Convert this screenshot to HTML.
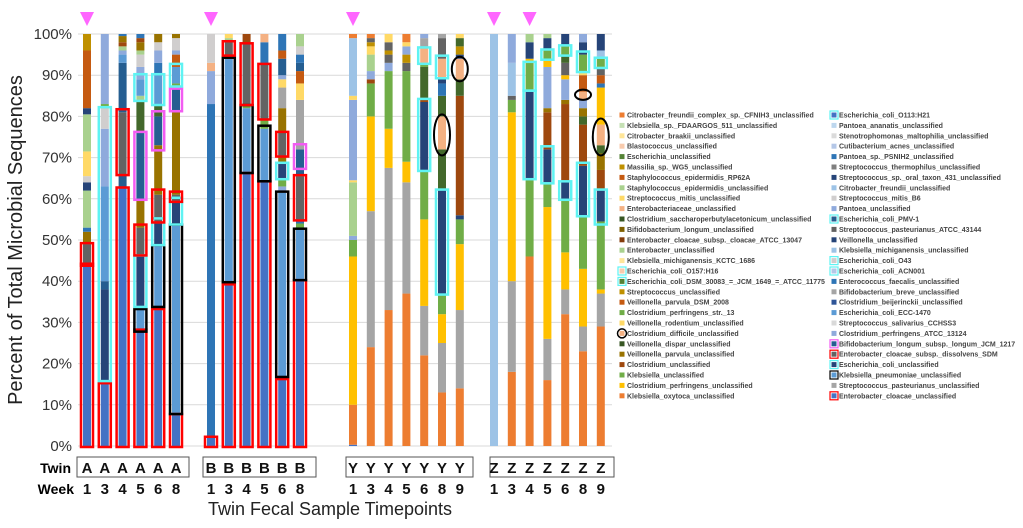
<!DOCTYPE html>
<html><head><meta charset="utf-8"><style>
body{margin:0;background:#fff;font-family:"Liberation Sans",sans-serif}
svg{display:block}
</style></head><body>
<svg id="c" width="1023" height="528" xmlns="http://www.w3.org/2000/svg"></svg>
<script>
// colour keys
const COL={B:'#4472c4',LB:'#5b9bd5',N:'#264478',G:'#636363',O:'#ed7d31',GY:'#a5a5a5',Y:'#ffc000',GR:'#70ad47',DG:'#43682b',BR:'#9e480e',OL:'#997300',PE:'#f4b183',LV:'#8faadc',LG:'#a9d18e',LY:'#ffd966',SB:'#255e91',MB:'#2e75b6',LBL:'#9dc3e6',LGR:'#d0cece',OB:'#c55a11',GD:'#bf9000'};
const groups=['A','B','Y','Z'];
const weeks=[[1,3,4,5,6,8],[1,3,4,5,6,8],[1,3,4,5,6,8,9],[1,3,4,5,6,8,9]];
const markers=[[0,0],[1,0],[2,0],[3,0],[3,2]];
// segments: [cumulative top %, colour]
const bars=[
[[44,'B'],[49,'G'],[52,'OL'],[53,'MB'],[62,'LG'],[64,'N'],[65.5,'LGR'],[71.5,'LY'],[80.5,'LG'],[82,'N'],[96,'OB'],[100,'GD']],
[[15,'B'],[38,'N'],[40,'SB'],[63,'LB'],[77,'LV'],[82,'LGR'],[83,'GR'],[100,'LV']],
[[62.5,'B'],[66,'SB'],[81,'G'],[93,'SB'],[95,'LB'],[96,'LV'],[97,'LG'],[98,'BR'],[99.5,'OL'],[100,'MB']],
[[28,'B'],[33,'LB'],[46,'N'],[53,'G'],[60,'OL'],[76,'SB'],[84,'DG'],[85,'LG'],[89,'LB'],[92,'LV'],[95,'LGR'],[96,'LG'],[98,'OL'],[99,'BR'],[100,'MB']],
[[33,'B'],[48.5,'LB'],[54,'N'],[61,'G'],[73,'OL'],[80,'SB'],[83,'DG'],[90,'LB'],[93,'MB'],[96,'LV'],[98,'LGR'],[100,'OL']],
[[7.5,'B'],[53.5,'LB'],[59,'N'],[61,'G'],[81,'OL'],[87,'SB'],[88,'GR'],[92,'LB'],[95,'OB'],[96,'LV'],[99,'LGR'],[100,'OL']],
[[2,'B'],[83,'MB'],[91,'LV'],[93,'PE'],[100,'LGR']],
[[39,'B'],[94,'LB'],[95,'GR'],[98,'G'],[99,'LG'],[100,'LY']],
[[66,'B'],[82,'LB'],[83,'GR'],[97.5,'G'],[100,'BR']],
[[64,'B'],[77,'LB'],[79.5,'GR'],[92.5,'G'],[98,'MB'],[100,'PE']],
[[16.5,'B'],[61.5,'LB'],[63,'LV'],[65,'GR'],[68.5,'N'],[70.5,'OL'],[76,'G'],[82,'OL'],[87,'GY'],[89,'LY'],[90,'LV'],[94,'SB'],[96,'OB'],[100,'MB']],
[[40,'B'],[52.5,'LB'],[54,'GR'],[55,'MB'],[65.5,'G'],[67,'SB'],[72,'SB'],[84,'GY'],[88,'LY'],[91,'OB'],[93,'SB'],[95,'MB'],[97,'LGR'],[100,'LG']],
[[0.3,'B'],[10,'O'],[46,'Y'],[50,'GR'],[51,'LV'],[64,'LG'],[64.5,'LY'],[84,'LV'],[85,'LY'],[99,'LBL'],[100,'O']],
[[24,'O'],[57,'GY'],[80,'Y'],[88,'GR'],[89,'BR'],[91,'LV'],[95,'LG'],[97,'LY'],[98,'GD'],[99,'G'],[100,'O']],
[[33,'O'],[67.5,'GY'],[77,'Y'],[91,'GR'],[93,'LV'],[95,'G'],[96,'GD'],[98,'G'],[100,'LY']],
[[37,'O'],[64,'GY'],[69,'Y'],[91,'GR'],[93,'G'],[95,'GD'],[97,'LV'],[98,'LY'],[100,'O']],
[[22,'O'],[34,'GY'],[55,'Y'],[67,'GR'],[83.5,'N'],[84.5,'BR'],[92,'DG'],[93,'GR'],[96.5,'PE'],[99,'GY'],[100,'LV']],
[[13,'O'],[25,'GY'],[32,'Y'],[37,'GR'],[62,'N'],[72,'DG'],[80,'PE'],[85,'DG'],[88,'MB'],[89,'N'],[94,'PE'],[99,'G'],[100,'GY']],
[[14,'O'],[33,'GY'],[49,'Y'],[55,'GR'],[56,'N'],[85,'BR'],[89,'DG'],[94,'PE'],[95,'N'],[97,'GD'],[99,'DG'],[100,'LY']],
[[100,'LBL']],
[[18,'O'],[40,'GY'],[81,'Y'],[84,'GR'],[85,'G'],[93,'LBL'],[100,'LV']],
[[46,'O'],[65,'GR'],[86,'N'],[93,'GR'],[94,'Y'],[98,'N'],[100,'LG']],
[[16,'O'],[26,'GY'],[58,'Y'],[64,'GR'],[72,'N'],[81,'BR'],[82,'OL'],[92,'LV'],[94,'Y'],[96,'GR'],[99,'N'],[100,'LG']],
[[32,'O'],[38,'GY'],[47,'Y'],[60,'GR'],[64,'N'],[83,'BR'],[84,'OL'],[89,'LV'],[90,'Y'],[93,'G'],[95,'DG'],[97,'GR'],[100,'N']],
[[23,'O'],[29,'GY'],[43,'Y'],[56,'GR'],[68,'N'],[78,'BR'],[80,'DG'],[82,'OL'],[84,'LV'],[86,'PE'],[90,'OB'],[91,'LY'],[95,'GR'],[98,'N'],[100,'LV']],
[[29,'O'],[37,'GY'],[38,'Y'],[54.5,'GR'],[62,'N'],[67,'BR'],[71,'OL'],[73,'DG'],[78,'PE'],[87,'Y'],[88,'MB'],[90,'OB'],[92,'G'],[94,'GR'],[96,'LBL'],[100,'N']]
];
// highlights: [bar index, from %, to %, type r/k/c/m/e]
const highlights=[
[0,0,44,'r'],[0,44,49,'r'],[1,0,15,'r'],[1,16,82,'c'],[2,0,62.5,'r'],[2,66,81.5,'r'],
[3,0,28,'r'],[3,28,33,'k'],[3,34,46,'c'],[3,46.5,53.5,'r'],[3,60,76,'m'],[3,84,90,'c'],
[4,0,33,'r'],[4,34,48.5,'k'],[4,49,55,'c'],[4,54.5,62,'r'],[4,72,81,'m'],[4,83,90,'c'],
[5,0,7.5,'r'],[5,8,53.5,'k'],[5,54,60,'c'],[5,59.5,61.5,'r'],[5,81.5,86.5,'m'],[5,87.5,92.5,'c'],
[6,0,2,'r'],[7,0,39,'r'],[7,40,94,'k'],[7,95,98,'r'],[8,0,66,'r'],[8,66.5,82.5,'k'],[8,83,97.5,'r'],
[9,0,64,'r'],[9,64.5,77.5,'k'],[9,79.5,92.5,'r'],[10,0,16,'r'],[10,17,61.5,'k'],[10,65,68.5,'c'],[10,70.5,76,'r'],
[11,0,40,'r'],[11,40.5,52.5,'k'],[11,55,65.5,'r'],[11,67.5,73,'m'],
[16,67,84,'c'],[16,93,96.5,'c'],[17,37,62,'c'],[17,71,80,'e'],[17,89.5,94.5,'c'],[18,89,94,'e'],
[21,65,86,'c'],[21,86.5,93,'c'],[22,64,72.5,'c'],[22,94,96,'c'],[23,60,64,'c'],[23,95,97,'c'],
[24,56,68.5,'c'],[24,84.5,86,'e'],[24,91,95.5,'c'],[25,54,62,'c'],[25,71,79,'e'],[25,92,94,'c']
];
const ticks=[0,10,20,30,40,50,60,70,80,90,100];
const legend1=[['Citrobacter_freundii_complex_sp._CFNIH3_unclassified','#ed7d31'],['Klebsiella_sp._FDAARGOS_511_unclassified','#c5e0b4'],['Citrobacter_braakii_unclassified','#ffe699'],['Blastococcus_unclassified','#f8cbad'],['Escherichia_unclassified','#548235'],['Massilia_sp._WG5_unclassified','#bf9000'],['Staphylococcus_epidermidis_RP62A','#c55a11'],['Staphylococcus_epidermidis_unclassified','#a9d18e'],['Streptococcus_mitis_unclassified','#ffd966'],['Enterobacteriaceae_unclassified','#f4b183'],['Clostridium_saccharoperbutylacetonicum_unclassified','#375623'],['Bifidobacterium_longum_unclassified','#7f6000'],['Enterobacter_cloacae_subsp._cloacae_ATCC_13047','#843c0c'],['Enterobacter_unclassified','#a9d18e'],['Klebsiella_michiganensis_KCTC_1686','#ffe699'],['Escherichia_coli_O157:H16','#f8cbad','c'],['Escherichia_coli_DSM_30083_=_JCM_1649_=_ATCC_11775','#548235','c'],['Streptococcus_unclassified','#bf9000'],['Veillonella_parvula_DSM_2008','#c55a11'],['Clostridium_perfringens_str._13','#70ad47'],['Veillonella_rodentium_unclassified','#ffd966'],['Clostridium_difficile_unclassified','#f4b183','e'],['Veillonella_dispar_unclassified','#375623'],['Veillonella_parvula_unclassified','#997300'],['Clostridium_unclassified','#9e480e'],['Klebsiella_unclassified','#70ad47'],['Clostridium_perfringens_unclassified','#ffc000'],['Klebsiella_oxytoca_unclassified','#ed7d31']];
const legend2=[['Escherichia_coli_O113:H21','#4472c4','c'],['Pantoea_ananatis_unclassified','#bdd7ee'],['Stenotrophomonas_maltophilia_unclassified','#dbdbdb'],['Cutibacterium_acnes_unclassified','#b4c7e7'],['Pantoea_sp._PSNIH2_unclassified','#2e75b6'],['Streptococcus_thermophilus_unclassified','#7f7f7f'],['Streptococcus_sp._oral_taxon_431_unclassified','#264478'],['Citrobacter_freundii_unclassified','#9dc3e6'],['Streptococcus_mitis_B6','#d0cece'],['Pantoea_unclassified','#8faadc'],['Escherichia_coli_PMV-1','#255e91','c'],['Streptococcus_pasteurianus_ATCC_43144','#636363'],['Veillonella_unclassified','#264478'],['Klebsiella_michiganensis_unclassified','#9dc3e6'],['Escherichia_coli_O43','#d0cece','c'],['Escherichia_coli_ACN001','#b4c7e7','c'],['Enterococcus_faecalis_unclassified','#2e75b6'],['Bifidobacterium_breve_unclassified','#a5a5a5'],['Clostridium_beijerinckii_unclassified','#2f5597'],['Escherichia_coli_ECC-1470','#5b9bd5'],['Streptococcus_salivarius_CCHSS3','#d9d9d9'],['Clostridium_perfringens_ATCC_13124','#8faadc'],['Bifidobacterium_longum_subsp._longum_JCM_1217','#255e91','m'],['Enterobacter_cloacae_subsp._dissolvens_SDM','#636363','r'],['Escherichia_coli_unclassified','#264478','c'],['Klebsiella_pneumoniae_unclassified','#5b9bd5','k'],['Streptococcus_pasteurianus_unclassified','#a5a5a5'],['Enterobacter_cloacae_unclassified','#4472c4','r']];

const S='http://www.w3.org/2000/svg', svg=document.getElementById('c');
function el(t,a,p){const e=document.createElementNS(S,t);for(const k in a)e.setAttribute(k,a[k]);(p||svg).appendChild(e);return e;}
const y0=446,y1=34;
const yS=v=>y0-(y0-y1)*v/100;
const groupStart=[87,211,353,494], step=17.8, bw=8;
const barX=[];groups.forEach((g,gi)=>weeks[gi].forEach((w,i)=>barX.push(groupStart[gi]+i*step)));
const OC={r:'#ff0000',k:'#000000',c:'#5ff3f3',m:'#f25cf2',e:'#000000'};
// grid
ticks.forEach(t=>{
 const l=el('line',{x1:78,x2:612,y1:yS(t),y2:yS(t),stroke:'#d9d9d9','stroke-width':1});
 
 const tx=el('text',{x:72,y:yS(t)+5,'text-anchor':'end','font-size':15,fill:'#333'});tx.textContent=t+'%';
 
});
// bars
bars.forEach((segs,bi)=>{let prev=0;const cx=barX[bi];
 segs.forEach(s=>{const r=el('rect',{x:cx-bw/2,y:yS(s[0]),width:bw,height:Math.max(0,yS(prev)-yS(s[0])),fill:COL[s[1]]});
  prev=s[0];});
});
highlights.forEach(h=>{const cx=barX[h[0]],t=yS(h[2]),b=yS(h[1]);let e;
 if(h[3]==='e'){e=el('ellipse',{cx:cx,cy:(t+b)/2,rx:bw/2+4,ry:Math.max(4,(b-t)/2+2),fill:'none',stroke:'#000','stroke-width':2});}
 else{e=el('rect',{x:cx-bw/2-2,y:t-1,width:bw+4,height:b-t+2,fill:'none',stroke:OC[h[3]],'stroke-width':2.5});}
 
});
// markers
markers.forEach(m=>{let idx=0;for(let g=0;g<m[0];g++)idx+=weeks[g].length;const cx=barX[idx+m[1]];
 const p=el('polygon',{points:`${cx-7},12 ${cx+7},12 ${cx},26`,fill:'#ff66ff'});
 });
// x labels
const boxes=[[77,189],[203,316],[346,473],[490,614]];
let bi2=0;groups.forEach((g,gi)=>{
 const r=el('rect',{x:boxes[gi][0],y:457,width:boxes[gi][1]-boxes[gi][0],height:20,fill:'none',stroke:'#555','stroke-width':1});
 
 weeks[gi].forEach(w=>{const cx=barX[bi2++];
  const a=el('text',{x:cx,y:473,'text-anchor':'middle','font-size':15,'font-weight':'bold',fill:'#111'});a.textContent=g;
  
  const b=el('text',{x:cx,y:494,'text-anchor':'middle','font-size':15,'font-weight':'bold',fill:'#111'});b.textContent=w;
  });
});
const tw=el('text',{x:71,y:473,'text-anchor':'end','font-size':14,'font-weight':'bold'});tw.textContent='Twin';

const wk=el('text',{x:74,y:494,'text-anchor':'end','font-size':14,'font-weight':'bold'});wk.textContent='Week';

const xt=el('text',{x:330,y:515,'text-anchor':'middle','font-size':18,fill:'#222'});xt.textContent='Twin Fecal Sample Timepoints';

const yt=el('text',{x:0,y:0,'text-anchor':'middle','font-size':20,fill:'#222',transform:'translate(22,240) rotate(-90)'});yt.textContent='Percent of Total Microbial Sequences';

// legend
[[legend1,622],[legend2,834]].forEach(([L,x])=>L.forEach((it,i)=>{const y=115+i*10.4;
 const m=el('rect',{x:x-2.5,y:y-2.5,width:5,height:5,fill:it[1]});
 
 if(it[2]==='e'){const o=el('circle',{cx:x,cy:y,r:4.5,fill:'none',stroke:'#000','stroke-width':1.5});}
 else if(it[2]){const o=el('rect',{x:x-4,y:y-4,width:8,height:8,fill:'none',stroke:OC[it[2]],'stroke-width':1.2});}
 const t=el('text',{x:x+5,y:y+2.5,'font-size':7,'font-weight':'bold',fill:'#444'});t.textContent=it[0];
 
}));
</script>
</body></html>
